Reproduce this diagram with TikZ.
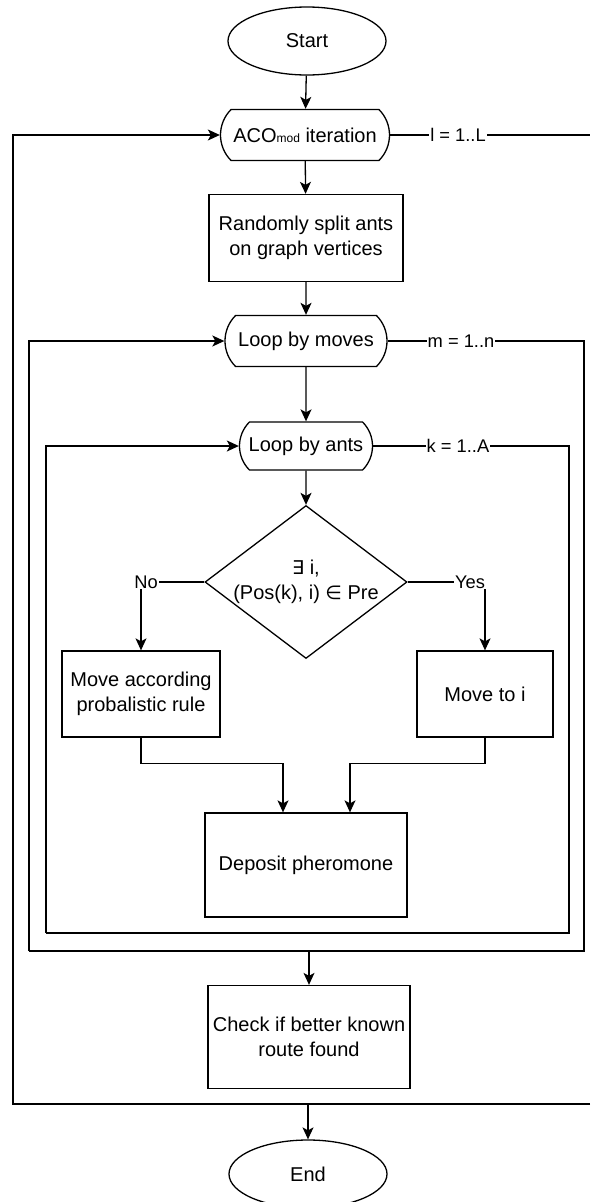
\documentclass[tikz,border=0pt]{standalone}
\usepackage{fontspec}
\setmainfont{Liberation Sans}
\newfontfamily\symfont{DejaVu Sans}
\usetikzlibrary{arrows.meta, shapes.geometric, shapes.misc, calc}
\tikzset{
	terminal/.style={ellipse, draw, line width=1.3pt, inner sep=0pt, minimum width=158pt, minimum height=68pt, font=\fontsize{20}{25}\selectfont},
	looplimit/.style={rounded rectangle, rounded rectangle arc length=90, draw, line width=1.3pt, inner sep=0pt, minimum height=51pt, font=\fontsize{20}{25}\selectfont},
	process/.style={rectangle, draw, line width=1.3pt, align=center, inner sep=0pt, font=\fontsize{20}{25}\selectfont},
	decision/.style={diamond, draw, line width=1.3pt, inner sep=0pt, minimum width=202pt, minimum height=153pt},
	arrow/.style={-{Stealth[length=12pt, width=11pt, inset=3pt]}, line width=1.3pt},
	loopline/.style={line width=1.3pt},
	looplabel/.style={fill=white, inner sep=1pt, font=\fontsize{18.3}{22}\selectfont},
}

\begin{document}
\begin{tikzpicture}[x=1pt, y=-1pt]
	\useasboundingbox (0,0) rectangle (590,1202);
	% main column
	\node[terminal] (start) at (307,41) {Start};
	\node[looplimit, minimum width=169pt] (aco) at (305,135) {ACO{\fontsize{12}{12}\selectfont mod} iteration};
	\node[process, minimum width=194pt, minimum height=87pt] (split) at (306,238) {Randomly split ants\\on graph vertices};
	\node[looplimit, minimum width=162pt] (moves) at (306,341) {Loop by moves};
	\node[looplimit, minimum width=133pt, minimum height=48pt] (ants) at (306,446) {Loop by ants};
	\node[decision] (cond) at (306,582) {};
	\node[align=center, font=\fontsize{20}{25}\selectfont] (condtext) at (cond.center) {{\symfont\fontsize{19}{25}\selectfont ∃} i,\\(Pos(k), i) {\symfont\fontsize{19}{25}\selectfont ∈} Pre};
	\node[process, minimum width=158pt, minimum height=86pt] (prob) at (141,694) {Move according\\probalistic rule};
	\node[process, minimum width=136pt, minimum height=86pt] (movei) at (485,694) {Move to i};
	\node[process, minimum width=202pt, minimum height=104pt] (deposit) at (306,865) {Deposit pheromone};
	\node[process, minimum width=202pt, minimum height=103pt] (check) at (309,1037) {Check if better known\\route found};
	\node[terminal] (end) at (308,1174) {End};

	% loop corners
	\coordinate (otl) at (13,135);
	\coordinate (otr) at (590,135);
	\coordinate (obl) at (13,1104);
	\coordinate (obr) at (590,1104);
	\coordinate (mtl) at (29,341);
	\coordinate (mtr) at (584,341);
	\coordinate (mbl) at (29,951);
	\coordinate (mbr) at (584,951);
	\coordinate (itl) at (46,446);
	\coordinate (itr) at (569,446);
	\coordinate (ibl) at (46,933);
	\coordinate (ibr) at (569,933);

	% loops
	\draw[loopline] (aco.east) -- (otr);
	\node[looplabel] (acolabel) at (458,135) {l = 1..L};
	\draw[arrow] (obr) -- (obl) -- (otl) -- (aco.west);
	\draw[loopline] (moves.east) -- (mtr) -- (mbr) -- (mbl);
	\node[looplabel] (moveslabel) at (461,341) {m = 1..n};
	\draw[arrow] (mbl) -- (mtl) -- (moves.west);
	\draw[loopline] (ants.east) -- (itr) -- (ibr) -- (ibl);
	\node[looplabel] (antslabel) at (458,446) {k = 1..A};
	\draw[arrow] (ibl) -- (itl) -- (ants.west);

	% flow
	\draw[arrow] (start) -- (aco);
	\draw[arrow] (aco) -- (split);
	\draw[arrow] (split) -- (moves);
	\draw[arrow] (moves) -- (ants);
	\draw[arrow] (ants) -- (cond);
	\draw[arrow] (cond.west) -| (prob.north) node[looplabel, pos=0.5, xshift=5pt] {No};
	\draw[arrow] (cond.east) -| (movei.north) node[looplabel, pos=0.5, xshift=-15pt] {Yes};
	\draw[arrow] (prob.south) -- ++(0,26) -| ($(deposit.north)+(-23,0)$);
	\draw[arrow] (movei.south) -- ++(0,26) -| ($(deposit.north)+(44,0)$);
	\draw[arrow] (check.north |- mbl) -- (check.north);
	\draw[arrow] (end.north |- obl) -- (end.north);
\end{tikzpicture}
\end{document}
